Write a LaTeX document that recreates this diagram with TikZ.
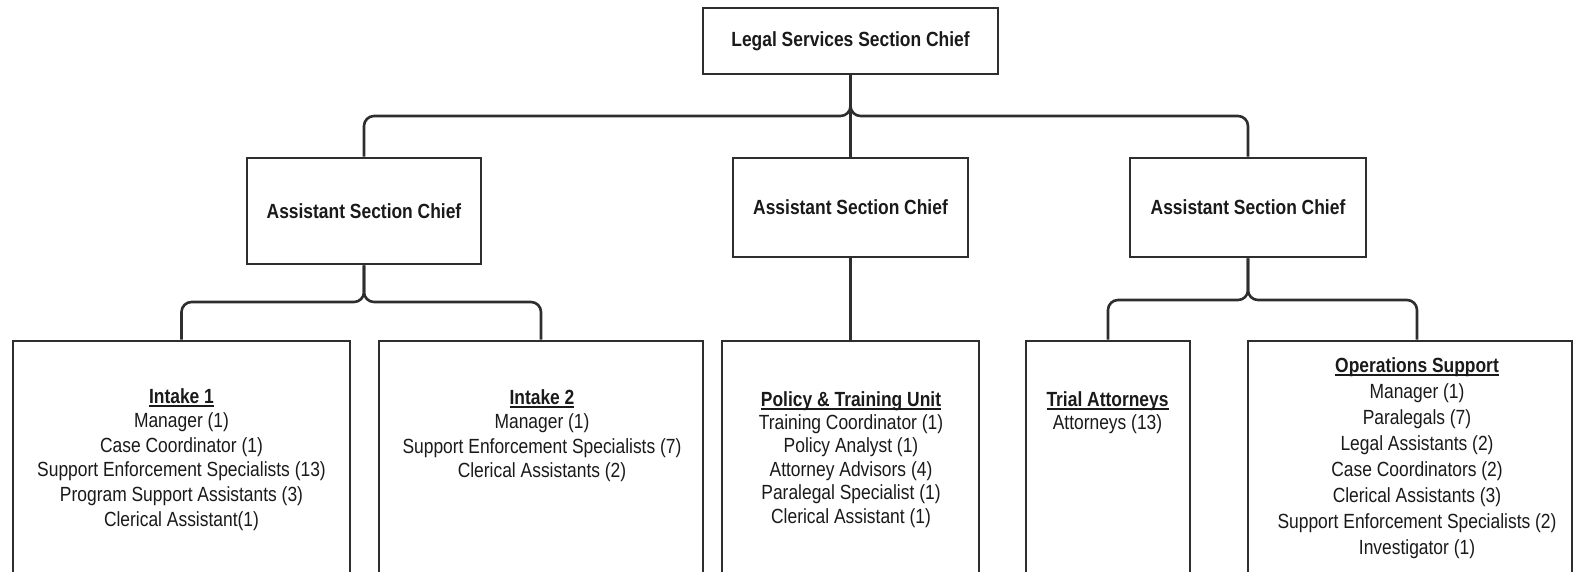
\documentclass[tikz,border=0pt]{standalone}
\usepackage{fontspec}
\setmainfont{Liberation Sans}[FakeStretch=0.85]
\usetikzlibrary{calc}
\definecolor{inkline}{HTML}{2E2E2E}
\definecolor{inktext}{HTML}{1A1A1A}
% bold, underlined unit heading
\newcommand\uhead[1]{{\bfseries\setbox0\hbox{#1}\rlap{\color{inktext}\vrule height -2.2pt depth 4pt width \wd0}\box0}}
\begin{document}
\begin{tikzpicture}[x=1pt,y=-1pt,
  box/.style={draw=inkline, line width=2.6pt, fill=white, inner sep=0pt},
  chiefbox/.style={box, font=\fontsize{20.5}{24}\selectfont\bfseries, text=inktext},
  unitbox/.style={box, minimum height=279pt},
  conn/.style={draw=inkline, line width=2.6pt, rounded corners=10pt},
  unittext/.style={font=\fontsize{20.5}{#1}\selectfont, text=inktext, align=center, anchor=north, inner sep=0pt}]
\useasboundingbox (0,0) rectangle (1576,571);
\clip (0,0) rectangle (1576,571);

% bus levels
\coordinate (busA) at (0,116);
\coordinate (busB) at (0,302);
\coordinate (busC) at (0,300);

% section chief and assistants
\node[chiefbox, minimum width=295pt, minimum height=66pt] (chief) at (850.5,41) {Legal Services Section Chief};
\node[chiefbox, minimum width=234pt, minimum height=106pt] (lasc) at (364,211) {Assistant Section Chief};
\node[chiefbox, minimum width=235pt, minimum height=99pt] (masc) at (850.5,207.5) {Assistant Section Chief};
\node[chiefbox, minimum width=236pt, minimum height=99pt] (rasc) at (1248,207.5) {Assistant Section Chief};

% unit boxes
\node[unitbox, minimum width=337pt] (intakeA) at (181.5,480.5) {};
\node[unitbox, minimum width=324pt] (intakeB) at (541,480.5) {};
\node[unitbox, minimum width=257pt] (policy) at (850.5,480.5) {};
\node[unitbox, minimum width=164pt] (trial) at (1108,480.5) {};
\node[unitbox, minimum width=324pt] (ops) at (1410,480.5) {};
\coordinate (opsTop) at ($(ops.north)+(7,0)$);

% connectors
\draw[conn] (lasc.north) |- (chief.south |- busA) -- (chief.south);
\draw[conn] (rasc.north) |- (chief.south |- busA) -- (chief.south);
\draw[conn] (chief.south) -- (masc.north);
\draw[conn] (intakeA.north) |- (lasc.south |- busB) -- (lasc.south);
\draw[conn] (intakeB.north) |- (lasc.south |- busB) -- (lasc.south);
\draw[conn] (masc.south) -- (policy.north);
\draw[conn] (trial.north) |- (rasc.south |- busC) -- (rasc.south);
\draw[conn] (opsTop) |- (rasc.south |- busC) -- (rasc.south);

% unit contents
\node[unittext=24.6] (intakeAtext) at (181.5,388) {\uhead{Intake 1}\\ Manager (1)\\ Case Coordinator (1)\\ Support Enforcement Specialists (13)\\ Program Support Assistants (3)\\ Clerical Assistant(1)};
\node[unittext=24.6] (intakeBtext) at (542,389) {\uhead{Intake 2}\\ Manager (1)\\ Support Enforcement Specialists (7)\\ Clerical Assistants (2)};
\node[unittext=23.4] (policytext) at (851,391) {\uhead{Policy \& Training Unit}\\ Training Coordinator (1)\\ Policy Analyst (1)\\ Attorney Advisors (4)\\ Paralegal Specialist (1)\\ Clerical Assistant (1)};
\node[unittext=23.4] (trialtext) at (1107.5,391) {\uhead{Trial Attorneys}\\ Attorneys (13)};
\node[unittext=26.1] (opstext) at (1417,357) {\uhead{Operations Support}\\ Manager (1)\\ Paralegals (7)\\ Legal Assistants (2)\\ Case Coordinators (2)\\ Clerical Assistants (3)\\ Support Enforcement Specialists (2)\\ Investigator (1)};
\end{tikzpicture}
\end{document}
